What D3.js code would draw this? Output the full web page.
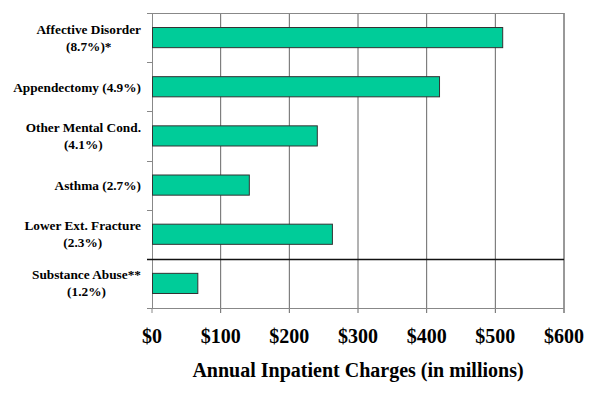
<!DOCTYPE html>
<html><head><meta charset="utf-8">
<script src="https://cdn.jsdelivr.net/npm/d3@7"></script>
<style>body{margin:0;background:#fff}</style>
</head><body>
<svg id="c" width="600" height="400"></svg>
<script>
const categories = [
  ["Affective Disorder", "(8.7%)*"],
  ["Appendectomy (4.9%)"],
  ["Other Mental Cond.", "(4.1%)"],
  ["Asthma (2.7%)"],
  ["Lower Ext. Fracture", "(2.3%)"],
  ["Substance Abuse**", "(1.2%)"]
];
const values = [510, 418, 240, 141, 262, 66];
const xTicks = [0, 100, 200, 300, 400, 500, 600];
const xTitle = "Annual Inpatient Charges (in millions)";

const svg = d3.select("#c");
const L = 152, R = 564, T = 13, B = 308;
const keys = categories.map(c => c.join(" "));
const x = d3.scaleLinear().domain([0, 600]).range([L, R]);
const band = d3.scaleBand().domain(keys).range([T, B]).padding(0);
const yBar = d3.scaleBand().domain(keys).range([T, B]).paddingInner(0.59).paddingOuter(0.295);
const font = "'Liberation Serif','Times New Roman',serif";

svg.append("g").selectAll("line").data(xTicks.slice(1)).join("line")
  .attr("x1", d => x(d)).attr("x2", d => x(d)).attr("y1", T).attr("y2", B + 5)
  .attr("stroke", d => d === 600 ? "#333" : "#666").attr("stroke-width", 1);
svg.append("line").attr("x1", L).attr("x2", R).attr("y1", T + 0.5).attr("y2", T + 0.5).attr("stroke", "#888");
svg.append("line").attr("x1", L).attr("x2", R).attr("y1", B + 0.5).attr("y2", B + 0.5).attr("stroke", "#888");
svg.append("line").attr("x1", x(0)).attr("x2", x(0)).attr("y1", B).attr("y2", B + 5).attr("stroke", "#888");
svg.append("line").attr("x1", L + 0.5).attr("x2", L + 0.5).attr("y1", T).attr("y2", B).attr("stroke", "#888");
const bounds = keys.map(k => band(k)).concat([B]);
svg.append("g").selectAll("line").data(bounds).join("line")
  .attr("x1", L - 5).attr("x2", L).attr("y1", d => Math.round(d) + 0.5).attr("y2", d => Math.round(d) + 0.5)
  .attr("stroke", "#888");
const sepY = Math.round(band(keys[5])) + 0.5;
svg.append("line").attr("x1", L - 5).attr("x2", R).attr("y1", sepY).attr("y2", sepY)
  .attr("stroke", "#111").attr("stroke-width", 1.5);

svg.append("g").selectAll("rect").data(values).join("rect")
  .attr("x", x(0) + 0.5).attr("y", (d, i) => yBar(keys[i]))
  .attr("width", d => x(d) - x(0)).attr("height", yBar.bandwidth())
  .attr("fill", "#00CC99").attr("stroke", "#333").attr("stroke-width", 1);

const labG = svg.append("g").attr("font-family", font).attr("font-weight", "bold").attr("font-size", 13.3).attr("fill", "#000");
categories.forEach((lines, i) => {
  const cy = band(keys[i]) + band.bandwidth() / 2;
  const g = labG.append("g");
  const texts = lines.map((ln, j) => g.append("text").text(ln)
    .attr("y", lines.length === 1 ? cy + 5 : (j === 0 ? cy - 4 : cy + 13)));
  const maxW = d3.max(texts, t => t.node().getComputedTextLength());
  const cx = 141 - maxW / 2;
  texts.forEach(t => t.attr("x", cx).attr("text-anchor", "middle"));
});

svg.append("g").selectAll("text").data(xTicks).join("text")
  .attr("x", d => x(d)).attr("y", 343).attr("text-anchor", "middle")
  .attr("font-family", font).attr("font-weight", "bold").attr("font-size", 20)
  .text(d => "$" + d);

svg.append("text").attr("x", (L + R) / 2).attr("y", 377).attr("text-anchor", "middle")
  .attr("font-family", font).attr("font-weight", "bold").attr("font-size", 20)
  .text(xTitle);
</script>
</body></html>
